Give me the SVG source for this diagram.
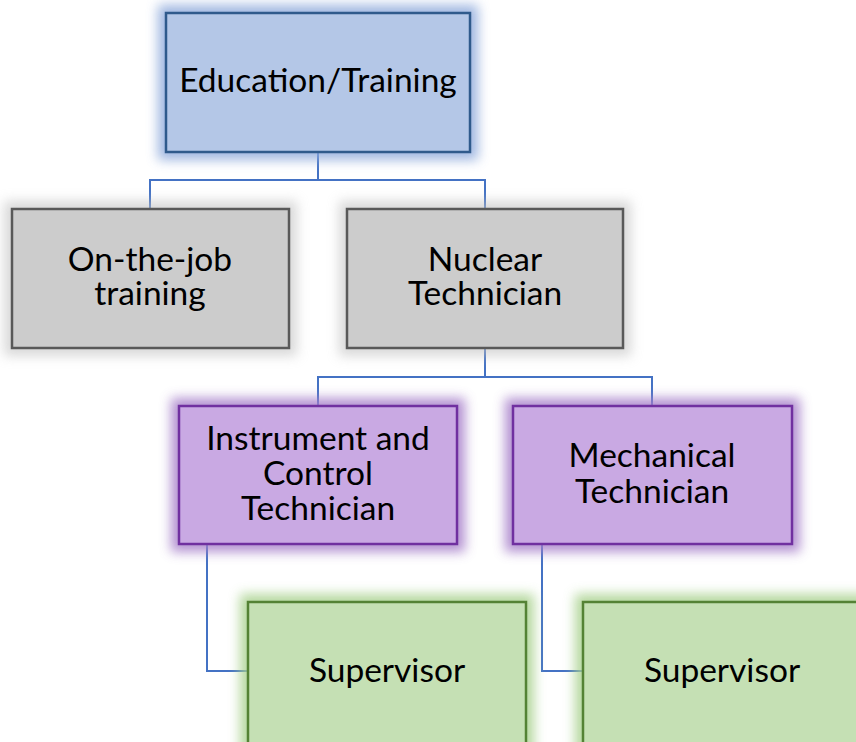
<svg xmlns="http://www.w3.org/2000/svg" width="856" height="742" viewBox="0 0 856 742">
<defs>
<filter id="glow" x="-30%" y="-30%" width="160%" height="160%"><feGaussianBlur stdDeviation="6"/></filter>
<style>
.t{font-family:Lato,"Liberation Sans",sans-serif;font-size:33.5px;fill:#000;text-anchor:middle}
.c{fill:none;stroke:#4472c4;stroke-width:2}
.blue{fill:#b4c7e7;stroke:#2f5a8c;stroke-width:2.5}
.gray{fill:#cccccc;stroke:#595959;stroke-width:2.5}
.purple{fill:#c9a9e3;stroke:#7030a0;stroke-width:2.5}
.green{fill:#c5e0b4;stroke:#548235;stroke-width:2.5}
</style>
</defs>
<rect width="856" height="742" fill="#fff"/>
<g id="connectors">
<path class="c" d="M318 152V180M150 209V180H485V209"/>
<path class="c" d="M485 348V377M318 405V377H652V405"/>
<path class="c" d="M207 544V671H248"/>
<path class="c" d="M542 544V671H583"/>
</g>
<g id="n-edu">
<rect x="158" y="5" width="320" height="155" fill="#8faadc" opacity="0.85" filter="url(#glow)"/>
<rect class="blue" x="166" y="13" width="304" height="139"/>
<text class="t" x="318" y="92">Education/Training</text>
</g>
<g id="n-ojt">
<rect x="4" y="201" width="293" height="155" fill="#bfbfbf" opacity="0.6" filter="url(#glow)"/>
<rect class="gray" x="12" y="209" width="277" height="139"/>
<text class="t" x="150" y="271">On-the-job</text>
<text class="t" x="150" y="305">training</text>
</g>
<g id="n-nuc">
<rect x="339" y="201" width="292" height="155" fill="#bfbfbf" opacity="0.6" filter="url(#glow)"/>
<rect class="gray" x="347" y="209" width="276" height="139"/>
<text class="t" x="485" y="271">Nuclear</text>
<text class="t" x="485" y="305">Technician</text>
</g>
<g id="n-ic">
<rect x="171" y="398" width="294" height="154" fill="#a67fc9" opacity="0.85" filter="url(#glow)"/>
<rect class="purple" x="179" y="406" width="278" height="138"/>
<text class="t" x="318" y="450">Instrument and</text>
<text class="t" x="318" y="485">Control</text>
<text class="t" x="318" y="520">Technician</text>
</g>
<g id="n-mech">
<rect x="505" y="398" width="295" height="154" fill="#a67fc9" opacity="0.85" filter="url(#glow)"/>
<rect class="purple" x="513" y="406" width="279" height="138"/>
<text class="t" x="652" y="467">Mechanical</text>
<text class="t" x="652" y="503">Technician</text>
</g>
<g id="n-sup1">
<rect x="240" y="594" width="294" height="164" fill="#a9d18e" opacity="0.85" filter="url(#glow)"/>
<rect class="green" x="248" y="602" width="278" height="150"/>
<text class="t" x="387" y="682">Supervisor</text>
</g>
<g id="n-sup2">
<rect x="575" y="594" width="294" height="164" fill="#a9d18e" opacity="0.85" filter="url(#glow)"/>
<rect class="green" x="583" y="602" width="278" height="150"/>
<text class="t" x="722" y="682">Supervisor</text>
</g>
</svg>
